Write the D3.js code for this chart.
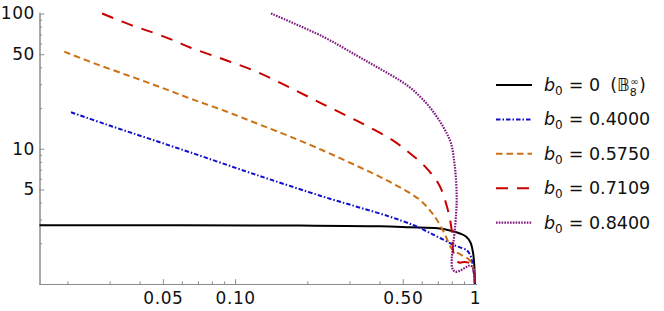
<!DOCTYPE html>
<html>
<head>
<meta charset="utf-8">
<script src="https://cdn.jsdelivr.net/npm/d3@7"></script>
<style>
  body { margin: 0; background: #fff; }
  svg { display: block; font-family: "DejaVu Sans", sans-serif; }
</style>
</head>
<body>
<div id="chart"></div>
<script>
// legend values for b0
const b0Labels = ["0", "0.4000", "0.5750", "0.7109", "0.8400"];

// ticks
const xMajor = [0.05, 0.1, 0.5, 1];
const xMajorLabels = ["0.05", "0.10", "0.50", "1"];
const xMinor = [0.02, 0.03, 0.04, 0.06, 0.07, 0.08, 0.09, 0.2, 0.3, 0.4, 0.6, 0.7, 0.8, 0.9];
const yMajor = [5, 10, 50, 100];
const yMajorLabels = ["5", "10", "50", "100"];
const yMinor = [2, 3, 4, 6, 7, 8, 9, 20, 30, 40, 60, 70, 80, 90];

// curves, [x, y]
const curveB0 = [[0.015, 2.716], [0.1864, 2.703], [0.4017, 2.675], [0.5358, 2.63], [0.701, 2.581],
  [0.802, 2.465], [0.8655, 2.362], [0.917, 2.245], [0.9574, 2.027], [0.981, 1.71], [0.993, 1.382],
  [0.998, 1.07], [1, 0.9]];
const curve040 = [[0.0207, 18.6], [0.02869, 15.24], [0.0421, 12.15], [0.0638, 9.51], [0.123, 6.4],
  [0.2332, 4.42], [0.3212, 3.73], [0.4422, 3.145], [0.5514, 2.731], [0.631, 2.444], [0.7146, 2.188],
  [0.8253, 1.926], [0.926, 1.769], [0.962, 1.584], [0.981, 1.336], [0.995, 1.07], [1, 0.9]];
const curve0575 = [[0.0194, 52.2], [0.02734, 41.3], [0.03825, 33.4], [0.051, 27.7], [0.0668, 23.1],
  [0.0908, 19.0], [0.1233, 15.37], [0.1694, 12.32], [0.2325, 9.71], [0.3222, 7.46], [0.4422, 5.68],
  [0.5896, 4.18], [0.6617, 3.35], [0.6944, 2.973], [0.7461, 2.362], [0.798, 1.83], [0.8253, 1.739],
  [0.8785, 1.638], [0.9484, 1.505], [0.981, 1.336], [1, 1.07], [1, 0.9]];
const curve07109 = [[0.0279, 100], [0.0375, 81.2], [0.0464, 71.4], [0.0562, 62.6], [0.0649, 56.1],
  [0.0893, 45.9], [0.123, 37.1], [0.1694, 28.3], [0.2332, 21.3], [0.3212, 16.12], [0.4494, 11.67],
  [0.5306, 9.38], [0.6236, 7.29], [0.709, 5.4], [0.7606, 3.84], [0.7903, 2.873], [0.806, 2.188],
  [0.8096, 1.784], [0.8253, 1.557], [0.8576, 1.442], [0.9084, 1.455], [0.953, 1.418], [0.9855, 1.269],
  [1, 1.07], [1, 0.9]];
const curve084 = [[0.1411, 100], [0.2325, 67.4], [0.3212, 48.9], [0.4017, 39.0], [0.4867, 31.96],
  [0.5514, 27.2], [0.631, 21.42], [0.6944, 17.17], [0.7496, 13.76], [0.794, 11.03], [0.8176, 8.26],
  [0.8335, 5.87], [0.839, 4.18], [0.8335, 3.237], [0.8215, 2.383], [0.806, 1.784], [0.7997, 1.505],
  [0.804, 1.313], [0.8253, 1.233], [0.8655, 1.254], [0.9236, 1.342], [0.953, 1.37], [0.981, 1.313],
  [0.995, 1.146], [1, 0.9]];

const series = [
  { data: curveB0, color: "#000000", dash: null, width: 2 },
  { data: curve040, color: "#1010c8", dash: "4.5,2,1.5,2", width: 2 },
  { data: curve0575, color: "#cc7014", dash: "6.5,4", width: 2 },
  { data: curve07109, color: "#c80000", dash: "12,9", width: 2 },
  { data: curve084, color: "#801a80", dash: "1.6,1.2", width: 2.2 }
];

const width = 664, height = 311;
const plotLeft = 39.5, plotRight = 475, plotTop = 13.5, plotBottom = 284;

const x = d3.scaleLog().domain([0.0153, 1]).range([plotLeft, plotRight]);
const y = d3.scaleLog().domain([1, 100]).range([plotBottom, plotTop]);

const svg = d3.select("#chart").append("svg")
  .attr("width", width)
  .attr("height", height);

svg.append("rect").attr("width", width).attr("height", height).attr("fill", "#fff");

svg.append("clipPath").attr("id", "plot")
  .append("rect")
  .attr("x", plotLeft).attr("y", plotTop - 2)
  .attr("width", plotRight - plotLeft + 2).attr("height", plotBottom - plotTop + 2);

// axes
const axisColor = "#8c8c8c";

const xAxisMinor = svg.append("g")
  .attr("transform", `translate(0,${plotBottom})`)
  .call(d3.axisBottom(x).tickValues(xMinor).tickSize(-2.6).tickSizeOuter(0).tickFormat(""));

const xAxis = svg.append("g")
  .attr("transform", `translate(0,${plotBottom})`)
  .call(d3.axisBottom(x).tickValues(xMajor).tickSize(-4.8).tickSizeOuter(0).tickPadding(8)
    .tickFormat((d, i) => xMajorLabels[i]));

const yAxisMinor = svg.append("g")
  .attr("transform", `translate(${plotLeft},0)`)
  .call(d3.axisLeft(y).tickValues(yMinor).tickSize(-2.6).tickSizeOuter(0).tickFormat(""));

const yAxis = svg.append("g")
  .attr("transform", `translate(${plotLeft},0)`)
  .call(d3.axisLeft(y).tickValues(yMajor).tickSize(-4.8).tickSizeOuter(0).tickPadding(4.5)
    .tickFormat((d, i) => yMajorLabels[i]));

[xAxisMinor, xAxis, yAxisMinor, yAxis].forEach(g => {
  g.selectAll(".domain").attr("stroke", axisColor).attr("stroke-width", 1);
  g.selectAll(".tick line").attr("stroke", axisColor).attr("stroke-width", 1);
  g.selectAll(".tick text")
    .attr("fill", "#111")
    .style("font-family", "'DejaVu Sans', sans-serif")
    .style("font-size", "17px")
    .style("letter-spacing", "0.6px");
});
xAxis.select(".domain").attr("d", `M${plotLeft},0.5H${plotRight + 2}`);
yAxis.select(".domain").attr("d", `M0.5,${plotTop - 1}V${plotBottom + 1}`);

// curves
const line = d3.line()
  .x(d => x(d[0]))
  .y(d => y(d[1]))
  .curve(d3.curveCatmullRom.alpha(0.5));

const plot = svg.append("g").attr("clip-path", "url(#plot)");

plot.selectAll("path.curve")
  .data(series)
  .join("path")
  .attr("class", "curve")
  .attr("fill", "none")
  .attr("stroke", d => d.color)
  .attr("stroke-width", d => d.width)
  .attr("stroke-dasharray", d => d.dash)
  .attr("d", d => line(d.data));

// legend
const legend = svg.append("g");
const legendY = i => 85 + i * 34.4;

series.forEach((s, i) => {
  const row = legend.append("g").attr("transform", `translate(0,${legendY(i)})`);
  row.append("line")
    .attr("x1", 496).attr("x2", 532)
    .attr("stroke", s.color)
    .attr("stroke-width", s.width)
    .attr("stroke-dasharray", s.dash);

  const t = row.append("text")
    .attr("x", 544)
    .attr("y", 6)
    .attr("fill", "#111")
    .style("font-size", "17.5px");
  t.append("tspan").attr("font-style", "italic").text("b");
  t.append("tspan").attr("dy", 4).style("font-size", "12px").text("0");
  t.append("tspan").attr("dy", -4).attr("dx", 6).text("= ");
  t.append("tspan").text(b0Labels[i]);
  if (i === 0) {
    t.append("tspan").attr("dx", 10).text("(𝔹");
    t.append("tspan").attr("dy", 5).style("font-size", "11px").text("8");
    t.append("tspan").attr("dy", -11).attr("dx", -6.5).style("font-size", "10px").text("∞");
    t.append("tspan").attr("dy", 6).attr("dx", 0.5).text(")");
  }
});
</script>
</body>
</html>
